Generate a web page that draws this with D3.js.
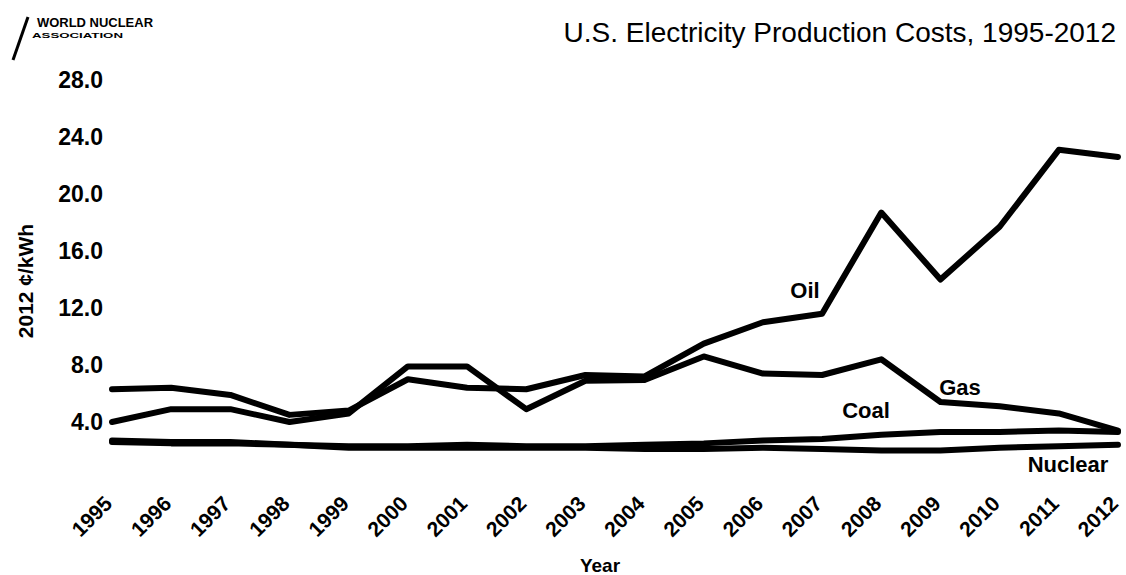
<!DOCTYPE html>
<html>
<head>
<meta charset="utf-8">
<script src="https://cdn.jsdelivr.net/npm/d3@7"></script>
<style>
  html, body { margin: 0; padding: 0; background: #fff; }
  svg { display: block; font-family: "Liberation Sans", Arial, sans-serif; }
</style>
</head>
<body>
<svg id="chart" width="1126" height="575"></svg>
<script>
const years = [1995,1996,1997,1998,1999,2000,2001,2002,2003,2004,2005,2006,2007,2008,2009,2010,2011,2012];
const oil     = [6.3,6.4,5.9,4.5,4.8,7.0,6.4,6.3,7.3,7.2,9.5,11.0,11.6,18.7,14.0,17.7,23.1,22.6];
const gas     = [4.0,4.9,4.9,4.0,4.6,7.9,7.9,4.9,6.9,6.95,8.6,7.4,7.3,8.4,5.4,5.1,4.6,3.4];
const coal    = [2.6,2.5,2.5,2.4,2.3,2.3,2.4,2.3,2.3,2.4,2.5,2.7,2.8,3.1,3.3,3.3,3.4,3.3];
const nuclear = [2.7,2.6,2.6,2.4,2.2,2.2,2.2,2.2,2.2,2.1,2.1,2.2,2.1,2.0,2.0,2.2,2.3,2.4];
const yTicks  = [4,8,12,16,20,24,28];
const seriesNames = ["Oil","Gas","Coal","Nuclear"];
const title = "U.S. Electricity Production Costs, 1995-2012";
const yTitle = "2012 ¢/kWh";
const xTitle = "Year";

const svg = d3.select("#chart");
const x = d3.scalePoint().domain(years).range([112, 1118]);
const y = d3.scaleLinear().domain([0, 28]).range([479, 80]);

// logo
svg.append("line").attr("x1",13).attr("y1",60).attr("x2",28).attr("y2",17)
  .attr("stroke","#000").attr("stroke-width",3);
svg.append("text").attr("x",37).attr("y",27).attr("font-size",13).attr("font-weight","bold")
  .attr("textLength",116).attr("lengthAdjust","spacingAndGlyphs").text("WORLD NUCLEAR");
svg.append("text").attr("transform","translate(32,38) scale(1,0.6)").attr("font-size",12).attr("font-weight","bold")
  .attr("textLength",91).attr("lengthAdjust","spacingAndGlyphs").text("ASSOCIATION");

// title
svg.append("text").attr("x",1116).attr("y",42).attr("text-anchor","end")
  .attr("font-size",28).attr("fill","#000").text(title);

// y axis
const yAxis = d3.axisLeft(y).tickValues(yTicks).tickSize(0).tickPadding(0).tickFormat(d3.format(".1f"));
const gy = svg.append("g").attr("transform","translate(103,0)").call(yAxis);
gy.select(".domain").remove();
gy.selectAll("text").attr("font-size",23).attr("font-weight","bold").attr("fill","#000")
  .attr("font-family","Liberation Sans, Arial, sans-serif");

// x axis
const xAxis = d3.axisBottom(x).tickSize(0).tickPadding(0);
const gx = svg.append("g").attr("transform","translate(0,479)").call(xAxis);
gx.select(".domain").remove();
gx.selectAll("text")
  .attr("font-size",21).attr("font-weight","bold").attr("fill","#000")
  .attr("font-family","Liberation Sans, Arial, sans-serif")
  .attr("text-anchor","end").attr("dy",null).attr("y",0)
  .attr("transform","translate(1,26) rotate(-45)");

// axis titles
svg.append("text").attr("transform","translate(33,281) rotate(-90)").attr("text-anchor","middle")
  .attr("font-size",21).attr("font-weight","bold").text(yTitle);
svg.append("text").attr("x",600).attr("y",572).attr("text-anchor","middle")
  .attr("font-size",19).attr("font-weight","bold").text(xTitle);

// lines
const data = [oil, gas, coal, nuclear];
const line = d3.line().x((d,i)=>x(years[i])).y(d=>y(d));
svg.append("g").selectAll("path").data(data).join("path")
  .attr("d", line).attr("fill","none").attr("stroke","#000")
  .attr("stroke-width",6).attr("stroke-linejoin","round").attr("stroke-linecap","round");

// labels
const labelPos = [
  {name:"Oil", x:805, y:298},
  {name:"Gas", x:960, y:395},
  {name:"Coal", x:866, y:418},
  {name:"Nuclear", x:1068, y:472}
];
svg.append("g").selectAll("text").data(labelPos).join("text")
  .attr("x",d=>d.x).attr("y",d=>d.y).attr("text-anchor","middle")
  .attr("font-size",22).attr("font-weight","bold").text(d=>d.name);
</script>
</body>
</html>
